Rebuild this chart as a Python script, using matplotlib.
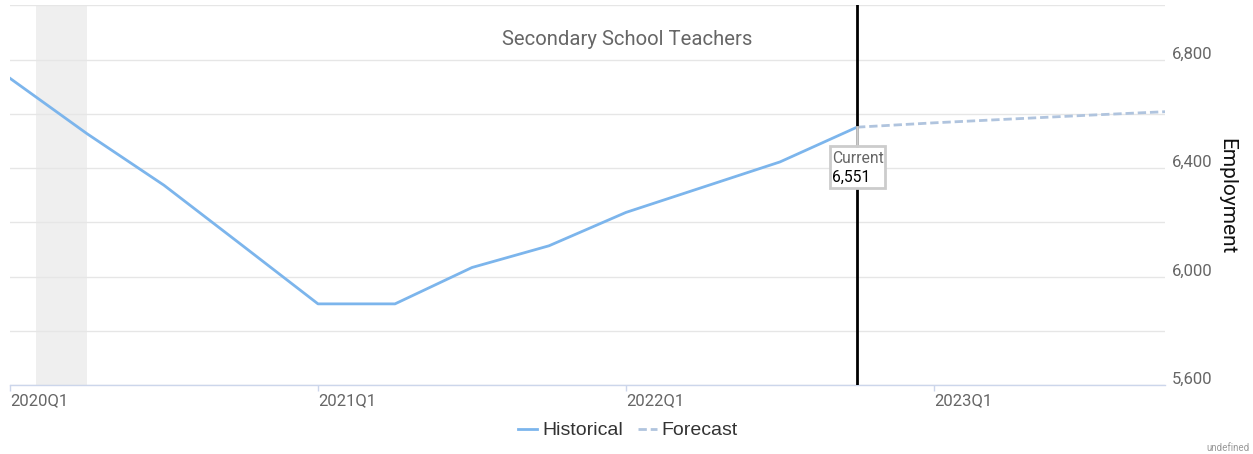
import matplotlib
matplotlib.use('Agg')
import matplotlib.pyplot as plt
from matplotlib.lines import Line2D
from matplotlib.patches import Rectangle
from matplotlib.transforms import ScaledTranslation

# quarterly employment, 2020Q1 .. 2022Q4 (historical) and 2022Q4 .. 2023Q4 (forecast)
hist_q = list(range(0, 12))
hist_emp = [6731, 6527, 6337, 6119, 5900, 5900, 6034, 6114, 6237, 6330, 6423, 6551]
fc_q = [11, 12, 13, 14, 15]
fc_emp = [6551, 6567, 6581, 6595, 6608]

tick_q = [0, 4, 8, 12]
tick_labels = ['2020Q1', '2021Q1', '2022Q1', '2023Q1']
y_ticks = [5600, 6000, 6400, 6800]

recession = (0.34, 1.0)
current_q = 11
current_val = 6551

plt.rcParams['font.family'] = ['Roboto', 'DejaVu Sans']

fig = plt.figure(figsize=(12.53, 4.54), dpi=100)
ax = fig.add_axes([10 / 1253, 1 - 385.3 / 454, 1155 / 1253, 380 / 454])

ax.axvspan(recession[0], recession[1], color='#efefef', lw=0, zorder=0)

for v in range(5600, 7001, 200):
    ax.axhline(v, color='#e6e6e6', lw=1, zorder=1)

ax.plot(hist_q, hist_emp, color='#7cb5ec', lw=2, zorder=3)
ax.plot(fc_q, fc_emp, color='#b0c4de', lw=2, dashes=(3, 1.4), zorder=3)

ax.axvline(current_q, color='black', lw=2, zorder=4)

# callout box for the current value, placed in inches relative to the point
box_tr = fig.dpi_scale_trans + ScaledTranslation(current_q, current_val, ax.transData)
ax.add_patch(Rectangle((-0.274, -0.61), 0.557, 0.417, transform=box_tr,
                       fc='white', ec='#cccccc', lw=2, zorder=5, clip_on=False))
ax.add_line(Line2D([0, 0], [0, -0.193], transform=box_tr, color='#cccccc',
                   lw=2, zorder=5))
ax.annotate('Current', xy=(current_q, current_val), xytext=(-17.8, -22.5),
            textcoords='offset points', ha='left', va='center', fontsize=11.3,
            color='#666666', zorder=6)
ax.annotate('{:,}'.format(current_val), xy=(current_q, current_val),
            xytext=(-17.8, -36.2), textcoords='offset points', ha='left',
            va='center', fontsize=11.3, color='black', zorder=6)

ax.set_xlim(0, 15)
ax.set_ylim(5600, 7000)

ax.set_xticks(tick_q)
ax.set_xticklabels(tick_labels, ha='left')
ax.tick_params(axis='x', length=4, width=1, color='#ccd6eb', labelsize=12,
               labelcolor='#666666', pad=2)

ax.yaxis.tick_right()
ax.set_yticks(y_ticks)
ax.set_yticklabels(['{:,}'.format(v) for v in y_ticks])
ax.tick_params(axis='y', length=0, labelsize=12, labelcolor='#666666', pad=5)
for lab in ax.get_yticklabels():
    lab.set_transform(lab.get_transform() + ScaledTranslation(0, 0.07, fig.dpi_scale_trans))

for s in ['top', 'left', 'right']:
    ax.spines[s].set_visible(False)
ax.spines['bottom'].set_color('#ccd6eb')
ax.spines['bottom'].set_linewidth(1)

ax.text(0.534, 0.911, 'Secondary School Teachers', transform=ax.transAxes,
        ha='center', va='center', fontsize=14.6, color='#666666')

fig.text(1227 / 1253, 1 - 196 / 454, 'Employment', rotation=270, ha='center',
         va='center', fontsize=15, color='#111111')

handles = [Line2D([], [], color='#7cb5ec', lw=2),
           Line2D([], [], color='#b0c4de', lw=2, dashes=(3, 1.4))]
fig.legend(handles, ['Historical', 'Forecast'], loc='center',
           bbox_to_anchor=(628 / 1253, 1 - 430.5 / 454), ncol=2, frameon=False,
           prop={'family': 'Liberation Sans', 'size': 14}, labelcolor='#333333',
           handlelength=1.0, handletextpad=0.25, columnspacing=0.75,
           borderpad=0, borderaxespad=0)

fig.text(1250 / 1253, 1 - 448 / 454, 'undefined', ha='right', va='center',
         fontsize=7, color='#999999')

fig.savefig('out.png', dpi=100)
